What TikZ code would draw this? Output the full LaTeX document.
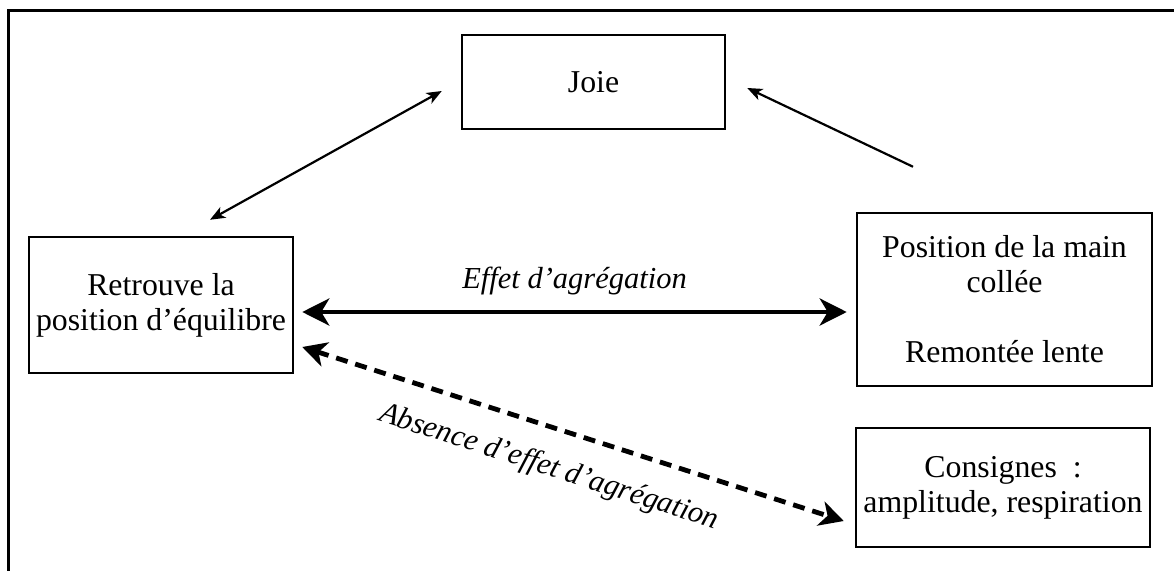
\documentclass[tikz,border=0pt]{standalone}
\usepackage{fontspec}
\setmainfont{Liberation Serif}
\usetikzlibrary{arrows.meta}
\begin{document}
\begin{tikzpicture}[x=1pt,y=-1pt,
  box/.style={draw, line width=2.5pt, align=center, inner sep=0pt,
    font=\fontsize{31.8}{35}\selectfont},
  linkthin/.style={line width=2.2pt,
    {Stealth[length=15pt,width=12pt,inset=4pt]}-{Stealth[length=15pt,width=12pt,inset=4pt]}},
  linkone/.style={line width=2.2pt, -{Stealth[length=15pt,width=12pt,inset=4pt]}},
  linkbold/.style={line width=4.5pt,
    {Stealth[length=27pt,width=27pt,inset=8pt]}-{Stealth[length=27pt,width=27pt,inset=8pt]}},
  linkdash/.style={line width=4.8pt, dash pattern=on 12pt off 8pt,
    {Stealth[length=24pt,width=25pt,inset=7pt]}-{Stealth[length=24pt,width=25pt,inset=7pt]}},
  lab/.style={font=\fontsize{30.5}{34}\selectfont\itshape, inner sep=0pt}
]
\useasboundingbox (0,0) rectangle (1174,570);

% frame
\draw[line width=3pt] (8.7,575) -- (8.7,10) -- (1180,10);

% boxes
\node[box, minimum width=263pt, minimum height=94pt] (joie) at (593.5,82) {Joie};
\node[box, minimum width=264pt, minimum height=136pt] (ret) at (161,305)
  {Retrouve la\\position d’équilibre};
\node[box, minimum width=295pt, minimum height=173pt] (pos) at (1004.5,299.5)
  {Position de la main\\collée\\[35pt]Remontée lente};
\node[box, minimum width=294pt, minimum height=119pt] (cons) at (1003,487.5)
  {Consignes~~:\\amplitude, respiration};

% connectors
\draw[linkthin] ([shift={(49,-16)}]ret.north) -- ([shift={(-19,9)}]joie.west);
\draw[linkone] ([shift={(-91.5,-45)}]pos.north) -- ([shift={(21,6)}]joie.east);
\draw[linkbold] ([shift={(8,7)}]ret.east) --
  node[lab, midway, anchor=base, yshift=24pt] {Effet d’agrégation}
  ([shift={(-9,12.5)}]pos.west);
\draw[linkdash] ([shift={(8,42)}]ret.east) --
  node[lab, sloped, pos=0.478, anchor=base, yshift=-47pt] {Absence d’effet d’agrégation}
  ([shift={(-11,33.5)}]cons.west);
\end{tikzpicture}
\end{document}
